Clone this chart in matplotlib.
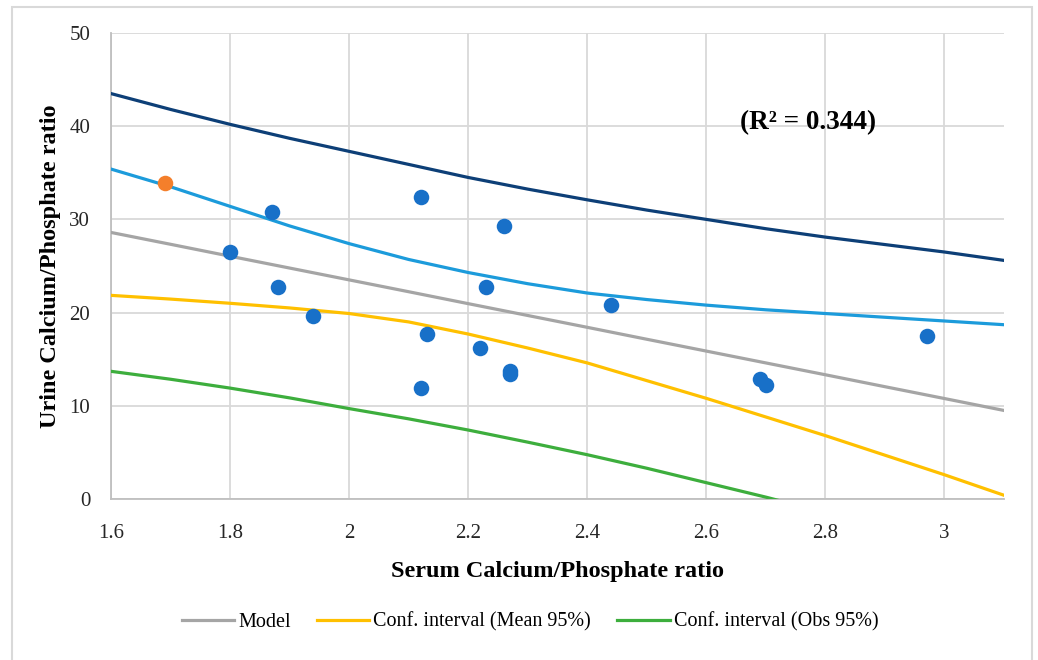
import matplotlib
matplotlib.use("Agg")
import matplotlib.pyplot as plt
from matplotlib.patches import Rectangle

# ---- data ----
serum_ratio = [1.80, 1.87, 1.88, 1.94, 2.12, 2.13, 2.12, 2.22, 2.26, 2.23,
               2.27, 2.27, 2.44, 2.69, 2.70, 2.97]
urine_ratio = [26.5, 30.8, 22.7, 19.6, 32.4, 17.7, 11.9, 16.2, 29.3, 22.8,
               13.7, 13.4, 20.8, 12.9, 12.2, 17.5]
highlight_x = [1.69]
highlight_y = [33.9]

curve_x = [1.6, 1.7, 1.8, 1.9, 2.0, 2.1, 2.2, 2.3, 2.4, 2.5, 2.6, 2.7, 2.8, 2.9, 3.0, 3.1]
model_y = [28.6, 27.33, 26.05, 24.78, 23.51, 22.24, 20.96, 19.69, 18.42, 17.14,
           15.87, 14.6, 13.33, 12.05, 10.78, 9.5]
mean_upper = [35.4, 33.5, 31.4, 29.3, 27.4, 25.7, 24.3, 23.1, 22.1, 21.4,
              20.8, 20.3, 19.9, 19.5, 19.1, 18.7]
mean_lower = [21.85, 21.45, 21.0, 20.5, 19.9, 19.0, 17.7, 16.2, 14.6, 12.7,
              10.8, 8.8, 6.8, 4.7, 2.6, 0.4]
obs_upper = [43.5, 41.8, 40.2, 38.7, 37.3, 35.9, 34.5, 33.25, 32.1, 31.0,
             30.0, 29.0, 28.1, 27.3, 26.5, 25.6]
obs_lower = [13.7, 12.85, 11.9, 10.85, 9.7, 8.6, 7.4, 6.1, 4.75, 3.3,
             1.75, 0.2, -1.45, -3.2, -4.9, -6.6]

x_ticks = [1.6, 1.8, 2.0, 2.2, 2.4, 2.6, 2.8, 3.0]
x_tick_labels = ["1.6", "1.8", "2", "2.2", "2.4", "2.6", "2.8", "3"]
y_ticks = [0, 10, 20, 30, 40, 50]

serif = ["Liberation Serif", "DejaVu Serif"]
plt.rcParams["font.family"] = serif

fig = plt.figure(figsize=(10.38, 6.6), dpi=100)
ax = fig.add_axes([111 / 1038, 1 - 499 / 660, (1004 - 111) / 1038, (499 - 33) / 660])

lw = 2.3
ax.plot(curve_x, obs_upper, color="#0D3F77", lw=lw, zorder=3)
ax.plot(curve_x, mean_upper, color="#1C9BDB", lw=lw, zorder=3)
l_model, = ax.plot(curve_x, model_y, color="#A5A5A5", lw=lw, zorder=3, label="Model")
l_mean, = ax.plot(curve_x, mean_lower, color="#FFC000", lw=lw, zorder=3,
                  label="Conf. interval (Mean 95%)")
l_obs, = ax.plot(curve_x, obs_lower, color="#3DAE3D", lw=lw, zorder=3,
                 label="Conf. interval (Obs 95%)")

ax.scatter(serum_ratio, urine_ratio, s=125, color="#1870C8", zorder=5, linewidths=0)
ax.scatter(highlight_x, highlight_y, s=125, color="#F47F2B", zorder=5, linewidths=0)

ax.set_xlim(1.6, 3.1)
ax.set_ylim(0, 50)
ax.set_xticks(x_ticks)
ax.set_xticklabels(x_tick_labels)
ax.set_yticks(y_ticks)
ax.grid(True, color="#D9D9D9", lw=1.3, zorder=0)
ax.set_axisbelow(True)
for s in ["top", "right"]:
    ax.spines[s].set_visible(False)
for s in ["left", "bottom"]:
    ax.spines[s].set_color("#BFBFBF")
    ax.spines[s].set_linewidth(1.3)
ax.tick_params(length=0, labelsize=15, colors="#262626")
ax.tick_params(axis="y", pad=15)
ax.tick_params(axis="x", pad=18)

ax.set_xlabel("Serum Calcium/Phosphate ratio", fontsize=17.5, fontweight="bold",
              labelpad=13)
ax.set_ylabel("Urine Calcium/Phosphate ratio", fontsize=17.5, fontweight="bold",
              labelpad=6)

ax.text(2.771, 40.4, "(R² = 0.344)", fontsize=19.5, fontweight="bold",
        ha="center", va="center", zorder=6)

fig.legend(handles=[l_model, l_mean, l_obs], loc="center",
           bbox_to_anchor=(530 / 1038, 1 - 622 / 660), ncol=3, frameon=False,
           fontsize=14.5, handlelength=2.6, handletextpad=0.2, columnspacing=1.3)

fig.patches.append(Rectangle((12 / 1038, -0.01), (1032 - 12) / 1038, 1.01 - 7 / 660,
                             transform=fig.transFigure, fill=False,
                             edgecolor="#D9D9D9", lw=1.5))

fig.savefig("out.png", dpi=100)
